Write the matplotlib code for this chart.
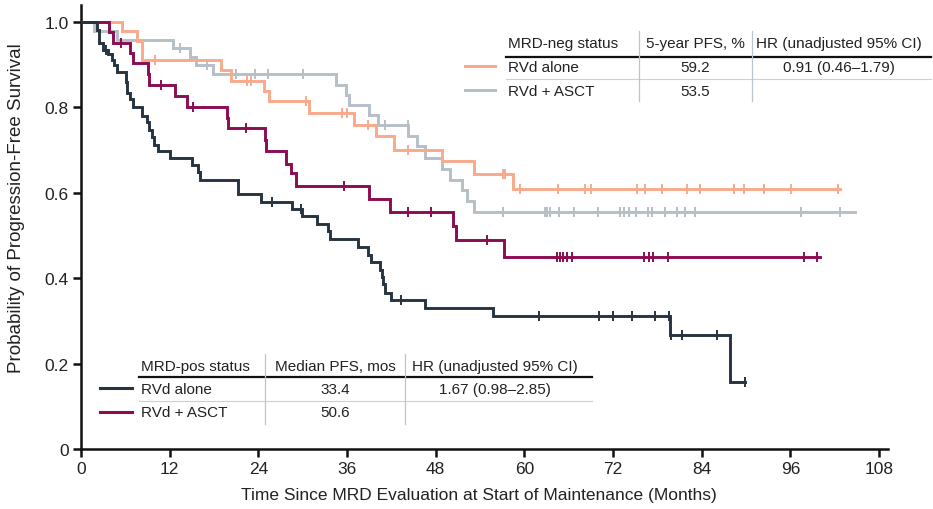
import numpy as np
import matplotlib
matplotlib.use("Agg")
import matplotlib.pyplot as plt
from matplotlib.lines import Line2D

plt.rcParams['font.family'] = ['Liberation Sans', 'DejaVu Sans']

# ---- Kaplan-Meier step data (months, survival probability) ----
# MRD-pos, RVd alone
dark_t = [0, 2.1, 2.5, 3.0, 3.7, 4.2, 4.5, 4.9, 6.1, 6.2, 6.6, 7.0, 8.2, 8.9, 9.2, 9.6, 9.9,
          10.4, 12.0, 15.0, 15.8, 16.1, 21.2, 24.4, 28.6, 29.9, 31.9, 33.4, 33.7, 37.5, 38.9,
          39.3, 40.5, 40.7, 40.9, 41.1, 42.0, 46.6, 55.8, 79.7, 87.8]
dark_s = [1.0, 0.981, 0.95, 0.935, 0.925, 0.911, 0.90, 0.882, 0.86, 0.835, 0.82, 0.80, 0.78,
          0.765, 0.748, 0.73, 0.713, 0.697, 0.681, 0.666, 0.648, 0.629, 0.597, 0.578, 0.561,
          0.545, 0.527, 0.51, 0.491, 0.473, 0.455, 0.438, 0.42, 0.403, 0.386, 0.366, 0.350,
          0.331, 0.311, 0.266, 0.156]
dark_cens = [3.4, 25.8, 29.8, 43.3, 62.0, 70.1, 72.0, 74.6, 77.7, 79.5, 79.9, 81.3, 86.0, 89.8]
dark_end = 89.8

# MRD-pos, RVd + ASCT
mag_t = [0, 3.8, 4.3, 6.6, 7.0, 9.0, 9.2, 12.7, 14.3, 19.7, 19.9, 24.9, 25.0, 27.7, 28.4,
         29.1, 39.0, 41.8, 50.4, 50.7, 57.2]
mag_s = [1.0, 0.976, 0.95, 0.927, 0.903, 0.878, 0.853, 0.827, 0.802, 0.776, 0.751, 0.724,
         0.697, 0.668, 0.646, 0.615, 0.586, 0.555, 0.522, 0.489, 0.450]
mag_cens = [5.4, 10.8, 15.2, 22.3, 35.6, 44.3, 47.3, 55.0, 64.4, 64.8, 65.2, 65.8, 66.5,
            76.2, 76.8, 77.4, 79.4, 97.9, 99.6]
mag_end = 100.0

# MRD-neg, RVd alone
or_t = [0, 5.5, 7.6, 8.2, 18.9, 20.3, 24.8, 25.4, 30.9, 36.9, 39.9, 42.3, 48.8, 53.2, 58.4]
or_s = [1.0, 0.98, 0.955, 0.911, 0.888, 0.862, 0.839, 0.815, 0.787, 0.759, 0.732, 0.701,
        0.674, 0.643, 0.610]
or_cens = [10.0, 22.5, 23.0, 30.4, 35.3, 36.0, 38.8, 44.2, 57.1, 57.4, 59.4, 64.5, 68.2,
           69.0, 75.2, 76.3, 78.6, 82.0, 83.8, 88.4, 89.7, 92.4, 96.1, 102.4]
or_end = 102.7

# MRD-neg, RVd + ASCT
gr_t = [0, 1.7, 4.9, 12.5, 14.7, 15.6, 17.9, 34.5, 35.8, 36.2, 39.0, 40.2, 44.3, 45.4, 46.5,
        48.9, 49.9, 51.5, 52.2, 53.2]
gr_s = [1.0, 0.980, 0.958, 0.939, 0.919, 0.900, 0.879, 0.853, 0.83, 0.806, 0.783, 0.759,
        0.732, 0.709, 0.681, 0.656, 0.631, 0.606, 0.580, 0.555]
gr_cens = [13.4, 17.1, 21.0, 23.5, 25.3, 30.0, 41.1, 44.2, 57.1, 62.8, 63.1, 63.5, 64.7, 66.7,
           69.9, 73.0, 73.5, 74.2, 75.1, 76.7, 77.3, 79.0, 80.7, 81.7, 83.1, 97.4, 102.7]
gr_end = 104.8

x_ticks = [0, 12, 24, 36, 48, 60, 72, 84, 96, 108]
y_ticks = [0, 0.2, 0.4, 0.6, 0.8, 1.0]
y_tick_labels = ["0", "0.2", "0.4", "0.6", "0.8", "1.0"]

# table contents
neg_header = ["MRD-neg status", "5-year PFS, %", "HR (unadjusted 95% CI)"]
neg_rows = [["RVd alone", "59.2", "0.91 (0.46\u20131.79)"],
            ["RVd + ASCT", "53.5", ""]]
pos_header = ["MRD-pos status", "Median PFS, mos", "HR (unadjusted 95% CI)"]
pos_rows = [["RVd alone", "33.4", "1.67 (0.98\u20132.85)"],
            ["RVd + ASCT", "50.6", ""]]

C_DARK = "#263441"
C_MAG = "#8c0c52"
C_OR = "#f9aa8c"
C_GR = "#b5bfc7"
TXT = "#222222"

W, H = 933, 510
AX_L, AX_R, AX_B, AX_T = 81, 888, 450, 6
fig = plt.figure(figsize=(W / 100, H / 100), dpi=100)
ax = fig.add_axes([AX_L / W, 1 - AX_B / H, (AX_R - AX_L) / W, (AX_B - AX_T) / H])


def km(ax, t, s, cens, end, color, z):
    t = np.asarray(t, float)
    s = np.asarray(s, float)
    xs = np.append(t, end)
    ys = np.append(s, s[-1])
    ax.step(xs, ys, where="post", color=color, lw=2.1, zorder=z, solid_joinstyle="miter")
    c = np.asarray(cens, float)
    idx = np.searchsorted(t, c, side="right") - 1
    ax.plot(c, s[idx], ls="none", marker="|", ms=6.5, mew=1.4, color=color, zorder=z)


km(ax, gr_t, gr_s, gr_cens, gr_end, C_GR, 2)
km(ax, or_t, or_s, or_cens, or_end, C_OR, 3)
km(ax, mag_t, mag_s, mag_cens, mag_end, C_MAG, 4)
km(ax, dark_t, dark_s, dark_cens, dark_end, C_DARK, 5)

ax.set_xlim(0, 109.2)
ax.set_ylim(0, 1.04)
ax.set_xticks(x_ticks)
ax.set_yticks(y_ticks)
ax.set_yticklabels(y_tick_labels)
for sp in ["top", "right"]:
    ax.spines[sp].set_visible(False)
for sp in ["left", "bottom"]:
    ax.spines[sp].set_linewidth(1.8)
    ax.spines[sp].set_color("#111111")
ax.tick_params(direction="out", length=6, width=1.8, colors="#111111",
               labelsize=12.5, pad=3, labelcolor=TXT)
ax.set_xlabel("Time Since MRD Evaluation at Start of Maintenance (Months)",
              fontsize=12.5, color=TXT, va="center")
ax.set_ylabel("Probability of Progression-Free Survival", fontsize=13.5,
              color=TXT, va="center")
ax_w = AX_R - AX_L
ax_h = AX_B - AX_T
ax.xaxis.set_label_coords((479 - AX_L) / ax_w, (AX_B - 496) / ax_h)
ax.yaxis.set_label_coords((17 - AX_L) / ax_w, (AX_B - 208) / ax_h)


# ---- tables drawn in figure pixel coordinates ----
def fx(px):
    return px / W


def fy(py):
    return 1 - py / H


def hline(x0, x1, y, color, lw):
    fig.add_artist(Line2D([fx(x0), fx(x1)], [fy(y), fy(y)], color=color, lw=lw,
                          transform=fig.transFigure))


def vline(x, y0, y1, color, lw):
    fig.add_artist(Line2D([fx(x), fx(x)], [fy(y0), fy(y1)], color=color, lw=lw,
                          transform=fig.transFigure))


def table(header, rows, left, col_centers, seps, y_head, y_rule, y_rows, y_thin, right,
          y_top, y_bot, leg_x, colors):
    fig.text(fx(left), fy(y_head), header[0], ha="left", va="center", fontsize=11,
             color=TXT)
    for i in (1, 2):
        fig.text(fx(col_centers[i - 1]), fy(y_head), header[i], ha="center", va="center",
                 fontsize=11, color=TXT)
    hline(left - 2, right, y_rule, "#111111", 1.6)
    hline(left - 2, right, y_thin, "#c9d1d8", 0.8)
    for sx in seps:
        vline(sx, y_top, y_bot, "#b9c5cf", 0.9)
    for row, yr, col in zip(rows, y_rows, colors):
        fig.text(fx(left), fy(yr), row[0], ha="left", va="center", fontsize=11, color=TXT)
        fig.text(fx(col_centers[0]), fy(yr), row[1], ha="center", va="center", fontsize=11,
                 color=TXT)
        if row[2]:
            fig.text(fx(col_centers[1]), fy(yr), row[2], ha="center", va="center",
                     fontsize=11, color=TXT)
        fig.add_artist(Line2D([fx(leg_x[0]), fx(leg_x[1])], [fy(yr - 1), fy(yr - 1)],
                              color=col, lw=2.2, transform=fig.transFigure))


table(neg_header, neg_rows, left=508, col_centers=[695, 839], seps=[639, 752],
      y_head=44, y_rule=57.5, y_rows=[68, 91.5], y_thin=80, right=931,
      y_top=32, y_bot=102, leg_x=[465, 495], colors=[C_OR, C_GR])

table(pos_header, pos_rows, left=141, col_centers=[335, 495], seps=[265, 405],
      y_head=367.5, y_rule=378, y_rows=[390, 413.5], y_thin=401.5, right=592,
      y_top=355, y_bot=425, leg_x=[100, 132], colors=[C_DARK, C_MAG])

fig.savefig("out.png", dpi=100)
